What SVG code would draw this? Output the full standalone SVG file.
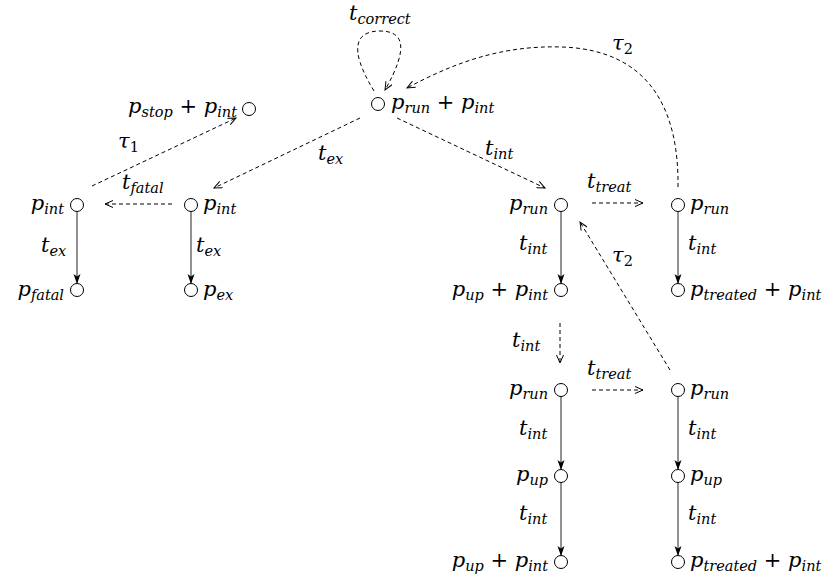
<svg xmlns="http://www.w3.org/2000/svg" width="834" height="578" viewBox="0 0 834 578">
<defs>
<style>
text{font-family:"DejaVu Serif","Liberation Serif",serif;font-style:italic;font-size:21px;fill:#000}
.s{font-size:14.5px}
.u{font-style:normal}
.node circle{fill:#fff;stroke:#000;stroke-width:1}
.solid{fill:none;stroke:#222;stroke-width:1;marker-end:url(#fill)}
.dash{fill:none;stroke:#000;stroke-width:1;stroke-dasharray:4 3;marker-end:url(#open)}
</style>
<marker id="open" viewBox="0 0 10 8" refX="9" refY="4" markerWidth="10" markerHeight="8" orient="auto" markerUnits="userSpaceOnUse">
<path d="M1,0.5 L9,4 L1,7.5" fill="none" stroke="#000" stroke-width="1" stroke-dasharray="none"/>
</marker>
<marker id="fill" viewBox="0 0 10 8" refX="9.5" refY="4" markerWidth="10" markerHeight="8" orient="auto" markerUnits="userSpaceOnUse">
<path d="M0,0.5 L10,4 L0,7.5 L2.5,4 z" fill="#000" stroke="none"/>
</marker>
</defs>

<g id="connectors">
<path class="dash" d="M374 91 C346 45 358 31 380 31 C403 31 410 46 385 90"/>
<path class="dash" d="M678 187 C679 110 650 50 562 47 C500 45 452 64 407 88"/>
<path class="dash" d="M360 118 L214 188"/>
<path class="dash" d="M397 118 L545 188"/>
<path class="dash" d="M172 204 L105 204"/>
<path class="dash" d="M92 186 L236 118"/>
<path class="dash" d="M592 203 L643 203"/>
<path class="dash" d="M592 390 L643 390"/>
<path class="dash" d="M560 323 L560 363"/>
<path class="dash" d="M670 370 L580 222"/>
<path class="solid" d="M77 211.5 L77 283.5"/>
<path class="solid" d="M191 211.5 L191 283.5"/>
<path class="solid" d="M561 211.5 L561 283.5"/>
<path class="solid" d="M678 211.5 L678 283.5"/>
<path class="solid" d="M561 396.5 L561 469.5"/>
<path class="solid" d="M678 396.5 L678 469.5"/>
<path class="solid" d="M561 482.5 L561 555.5"/>
<path class="solid" d="M678 482.5 L678 555.5"/>
</g>

<g id="edge-labels">
<text x="349" y="20">t<tspan class="s" dy="4">correct</tspan></text>
<text x="612" y="50">τ<tspan class="s u" dy="4">2</tspan></text>
<text x="118" y="148">τ<tspan class="s u" dy="4">1</tspan></text>
<text x="122" y="189">t<tspan class="s" dy="4">fatal</tspan></text>
<text x="318" y="160">t<tspan class="s" dy="4">ex</tspan></text>
<text x="485" y="155">t<tspan class="s" dy="4">int</tspan></text>
<text x="41" y="252">t<tspan class="s" dy="4">ex</tspan></text>
<text x="196" y="252">t<tspan class="s" dy="4">ex</tspan></text>
<text x="587" y="188">t<tspan class="s" dy="4">treat</tspan></text>
<text x="519" y="250">t<tspan class="s" dy="4">int</tspan></text>
<text x="688" y="250">t<tspan class="s" dy="4">int</tspan></text>
<text x="612" y="262">τ<tspan class="s u" dy="4">2</tspan></text>
<text x="512" y="347">t<tspan class="s" dy="4">int</tspan></text>
<text x="587" y="375">t<tspan class="s" dy="4">treat</tspan></text>
<text x="519" y="435">t<tspan class="s" dy="4">int</tspan></text>
<text x="688" y="435">t<tspan class="s" dy="4">int</tspan></text>
<text x="519" y="520">t<tspan class="s" dy="4">int</tspan></text>
<text x="688" y="520">t<tspan class="s" dy="4">int</tspan></text>
</g>

<g id="n-top" class="node"><circle cx="378" cy="104" r="6.5"/><text x="391" y="109">p<tspan class="s" dy="4">run</tspan><tspan class="u" dy="-4"> + </tspan>p<tspan class="s" dy="4">int</tspan></text></g>
<g id="n-stop" class="node"><circle cx="249" cy="109" r="6.5"/><text x="237" y="113" text-anchor="end">p<tspan class="s" dy="4">stop</tspan><tspan class="u" dy="-4"> + </tspan>p<tspan class="s" dy="4">int</tspan></text></g>
<g id="n-int-l" class="node"><circle cx="77" cy="205" r="6.5"/><text x="64" y="210" text-anchor="end">p<tspan class="s" dy="4">int</tspan></text></g>
<g id="n-int-m" class="node"><circle cx="191" cy="205" r="6.5"/><text x="203" y="210">p<tspan class="s" dy="4">int</tspan></text></g>
<g id="n-fatal" class="node"><circle cx="77" cy="290" r="6.5"/><text x="64" y="296" text-anchor="end">p<tspan class="s" dy="4">fatal</tspan></text></g>
<g id="n-ex" class="node"><circle cx="191" cy="290" r="6.5"/><text x="203" y="296">p<tspan class="s" dy="4">ex</tspan></text></g>
<g id="n-run1" class="node"><circle cx="561" cy="205" r="6.5"/><text x="548" y="210" text-anchor="end">p<tspan class="s" dy="4">run</tspan></text></g>
<g id="n-run1r" class="node"><circle cx="678" cy="205" r="6.5"/><text x="690" y="210">p<tspan class="s" dy="4">run</tspan></text></g>
<g id="n-upint1" class="node"><circle cx="561" cy="290" r="6.5"/><text x="548" y="296" text-anchor="end">p<tspan class="s" dy="4">up</tspan><tspan class="u" dy="-4"> + </tspan>p<tspan class="s" dy="4">int</tspan></text></g>
<g id="n-treat1" class="node"><circle cx="678" cy="290" r="6.5"/><text x="690" y="296">p<tspan class="s" dy="4">treated</tspan><tspan class="u" dy="-4"> + </tspan>p<tspan class="s" dy="4">int</tspan></text></g>
<g id="n-run2" class="node"><circle cx="561" cy="390" r="6.5"/><text x="548" y="395" text-anchor="end">p<tspan class="s" dy="4">run</tspan></text></g>
<g id="n-run2r" class="node"><circle cx="678" cy="390" r="6.5"/><text x="690" y="395">p<tspan class="s" dy="4">run</tspan></text></g>
<g id="n-up2" class="node"><circle cx="561" cy="476" r="6.5"/><text x="548" y="481" text-anchor="end">p<tspan class="s" dy="4">up</tspan></text></g>
<g id="n-up2r" class="node"><circle cx="678" cy="476" r="6.5"/><text x="690" y="481">p<tspan class="s" dy="4">up</tspan></text></g>
<g id="n-upint2" class="node"><circle cx="561" cy="562" r="6.5"/><text x="548" y="567" text-anchor="end">p<tspan class="s" dy="4">up</tspan><tspan class="u" dy="-4"> + </tspan>p<tspan class="s" dy="4">int</tspan></text></g>
<g id="n-treat2" class="node"><circle cx="678" cy="562" r="6.5"/><text x="690" y="567">p<tspan class="s" dy="4">treated</tspan><tspan class="u" dy="-4"> + </tspan>p<tspan class="s" dy="4">int</tspan></text></g>
</svg>
